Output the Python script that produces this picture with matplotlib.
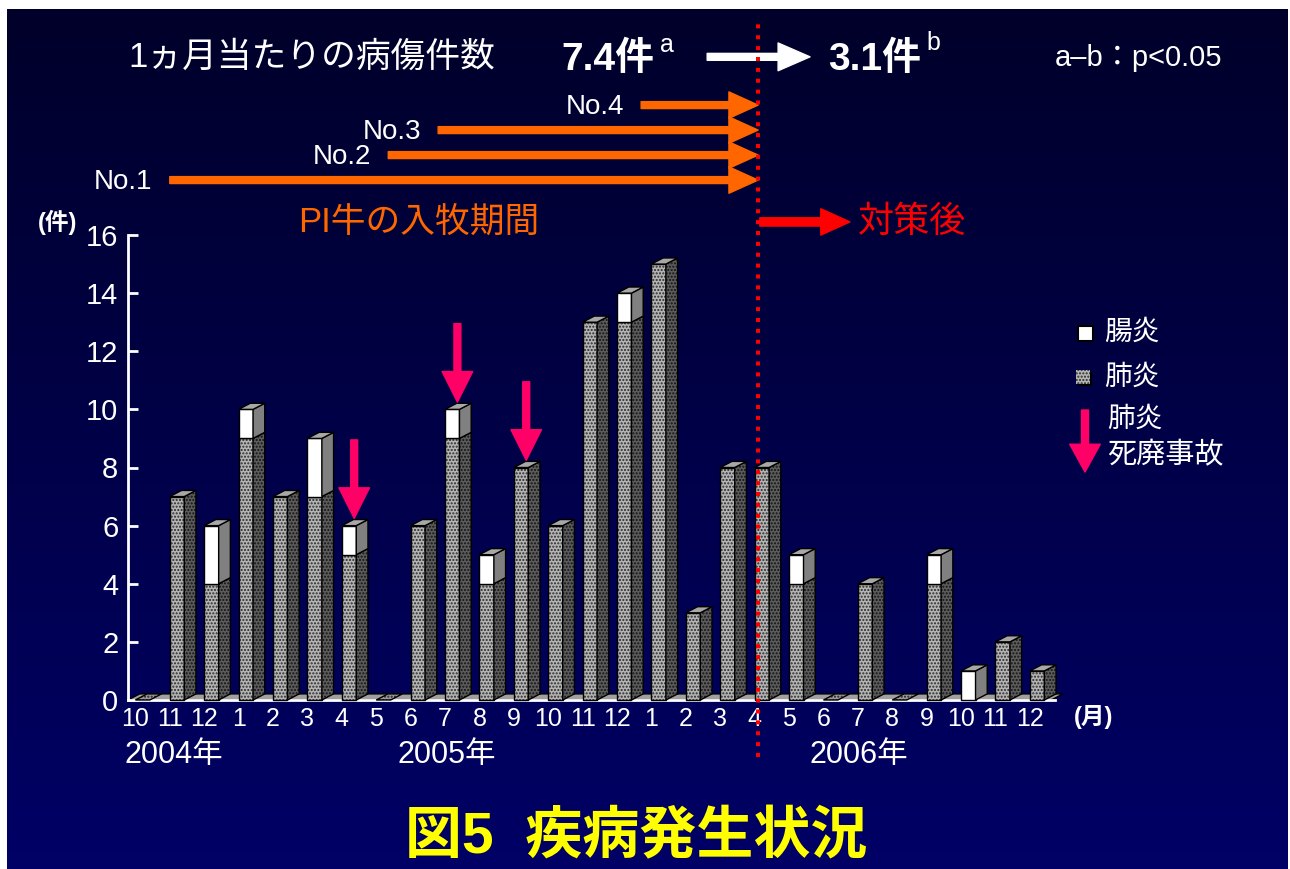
import numpy as np
import matplotlib.pyplot as plt
from matplotlib.colors import LinearSegmentedColormap
from matplotlib.patches import Polygon, Rectangle

plt.rcParams['font.family'] = ['Liberation Sans', 'Noto Sans CJK JP', 'DejaVu Sans']
plt.rcParams['hatch.linewidth'] = 1.0

# Oct 2004 .. Dec 2006
months = ['10', '11', '12'] + [str(m) for m in range(1, 13)] * 2
years = ['2004年', '2005年', '2006年']
pneumonia = [0, 7, 4, 9, 7, 7, 5, 0, 6, 9, 4, 8, 6, 13, 13,
             15, 3, 8, 8, 4, 0, 4, 0, 4, 0, 2, 1]
enteritis = [0, 0, 2, 1, 0, 2, 1, 0, 0, 1, 1, 0, 0, 0, 1,
             0, 0, 0, 0, 1, 0, 0, 0, 1, 1, 0, 0]
death_months = [6, 9, 11]           # 2005-4, 2005-7, 2005-9
pi_labels = ['No.1', 'No.2', 'No.3', 'No.4']
pi_start = [1.0, 7.35, 8.8, 14.7]    # month index each PI calf came in
measures_from = 18.1                 # April 2006
rate_before = '7.4'
rate_after = '3.1'

W_PX, H_PX = 1290, 869
ORANGE = '#ff6600'
PINK = '#ff0066'

fig = plt.figure(figsize=(W_PX / 100, H_PX / 100), dpi=100, facecolor='white')

# navy gradient slide background
bg = fig.add_axes([7 / W_PX, 0, 1281 / W_PX, 860 / H_PX], zorder=0)
navy = LinearSegmentedColormap.from_list('navy', ['#00002a', '#000048', '#000066'])
bg.imshow(np.linspace(0, 1, 256).reshape(-1, 1), aspect='auto', cmap=navy,
          extent=[0, 1, 0, 1], origin='upper')
bg.axis('off')

# main chart, 34.4 px per month, 29.06 px per case
ax = fig.add_axes([128 / W_PX, 169 / H_PX, 927 / W_PX, 465 / H_PX], zorder=2)
ax.patch.set_alpha(0)
ax.set_xlim(-0.215, 26.73)
ax.set_ylim(0, 16)
for s in ['top', 'right']:
    ax.spines[s].set_visible(False)
for s in ['left', 'bottom']:
    ax.spines[s].set_color('white')
    ax.spines[s].set_linewidth(2)
ax.set_yticks(range(0, 17, 2))
ax.tick_params(axis='y', direction='in', length=7, width=2, colors='white',
               labelsize=21, pad=7)
ax.set_xticks(range(len(months)))
ax.set_xticklabels(months)
ax.tick_params(axis='x', length=0, colors='white', labelsize=18, pad=5)

BW, DX, DY = 0.42, 0.34, 0.21


def face(pts, color, hatch=None, hatch_color=None, z=3):
    ax.add_patch(Polygon(pts, closed=True, facecolor=color, edgecolor='none',
                         zorder=z, clip_on=False))
    if hatch:
        ax.add_patch(Polygon(pts, closed=True, fill=False, hatch=hatch,
                             edgecolor=hatch_color, lw=0, zorder=z, clip_on=False))
    ax.add_patch(Polygon(pts, closed=True, fill=False, edgecolor='black',
                         lw=1.0, zorder=z, clip_on=False))


def segment(x, y0, y1, kind, top):
    front = [(x, y0), (x + BW, y0), (x + BW, y1), (x, y1)]
    side = [(x + BW, y0), (x + BW + DX, y0 + DY), (x + BW + DX, y1 + DY), (x + BW, y1)]
    lid = [(x, y1), (x + BW, y1), (x + BW + DX, y1 + DY), (x + DX, y1 + DY)]
    if kind == 'pn':
        face(front, '#b4b4b4', '.....', '#2a2a2a')
        face(side, '#5c5c5c', '.....', '#141414')
    else:
        face(front, 'white')
        face(side, '#808080')
    if top:
        face(lid, '#a8a8a8')


# floor
face([(-0.215, 0), (26.62, 0), (26.62 + DX, DY), (-0.215 + DX, DY)], '#a0a0a0', z=2.5)

for i, (p, e) in enumerate(zip(pneumonia, enteritis)):
    if p + e == 0:
        face([(i, 0), (i + BW, 0), (i + BW + DX, DY), (i + DX, DY)], '#9a9a9a', '.....', '#202020')
        continue
    if p > 0:
        segment(i, 0, p, 'pn', top=(e == 0))
    if e > 0:
        segment(i, p, p + e, 'en', top=True)

# pneumonia deaths
for i in death_months:
    tot = pneumonia[i] + enteritis[i]
    ax.annotate('', xy=(i + 0.36, tot + 0.25), xytext=(i + 0.36, tot + 2.95),
                annotation_clip=False,
                arrowprops=dict(arrowstyle='simple,head_length=2.2,head_width=2.2,tail_width=0.5',
                                mutation_scale=10, color=PINK, shrinkA=0, shrinkB=0))

# PI calf grazing periods
for k, (lab, x0) in enumerate(zip(pi_labels, pi_start)):
    y = 17.89 + k * 0.86
    ax.annotate('', xy=(measures_from, y), xytext=(x0, y), annotation_clip=False,
                arrowprops=dict(arrowstyle='simple,head_length=2.1,head_width=1.9,tail_width=0.5',
                                mutation_scale=10, color=ORANGE, shrinkA=0, shrinkB=0))
    ax.text(x0 - 0.5, y - 0.08, lab, ha='right', va='center', color='white',
            fontsize=20, clip_on=False)

# after measures
ax.annotate('', xy=(measures_from + 2.67, 16.45), xytext=(measures_from + 0.05, 16.45),
            annotation_clip=False,
            arrowprops=dict(arrowstyle='simple,head_length=2.1,head_width=1.9,tail_width=0.6',
                            mutation_scale=10, color='red', shrinkA=0, shrinkB=0))
# monthly rate before -> after
ax.annotate('', xy=(19.61, 22.13), xytext=(16.62, 22.13), annotation_clip=False,
            arrowprops=dict(arrowstyle='simple,head_length=2.3,head_width=2.0,tail_width=0.5',
                            mutation_scale=10, color='white', shrinkA=0, shrinkB=0))

ax.plot([measures_from, measures_from], [-1.96, 23.26], color='red', lw=2.9,
        ls=(0, (1, 1.7)), dash_capstyle='butt', clip_on=False, zorder=6)

# text overlay in pixel units
ov = fig.add_axes([0, 0, 1, 1], zorder=3)
ov.set_xlim(0, W_PX)
ov.set_ylim(H_PX, 0)
ov.axis('off')
ov.patch.set_alpha(0)

ov.text(128, 57, '1ヵ月当たりの病傷件数', color='white', fontsize=25, va='center')
ov.text(561, 60, rate_before + '件', color='white', fontsize=28, fontweight='bold', va='center')
ov.text(660, 45, 'a', color='white', fontsize=18, va='center')
ov.text(828, 60, rate_after + '件', color='white', fontsize=28, fontweight='bold', va='center')
ov.text(926, 43, 'b', color='white', fontsize=18, va='center')
ov.text(1055, 58, 'a–b：p<0.05', color='white', fontsize=21, va='center')

ov.text(298, 222, 'PI牛の入牧期間', color=ORANGE, fontsize=25, va='center')
ov.text(858, 222, '対策後', color='red', fontsize=26, va='center')
ov.text(38, 222, '(件)', color='white', fontsize=17, fontweight='bold', va='center')
ov.text(1074, 717, '(月)', color='white', fontsize=17, fontweight='bold', va='center')

for lab, cx in zip(years, [174, 447, 859]):
    ov.text(cx, 755, lab, color='white', fontsize=22, ha='center', va='center')

# legend
ov.add_patch(Rectangle((1078, 326), 15, 15, facecolor='white', edgecolor='black', lw=1.5))
ov.add_patch(Rectangle((1078, 372), 14, 14, facecolor='#000000', edgecolor='none'))
ov.add_patch(Rectangle((1076, 370), 14, 14, facecolor='#b4b4b4', edgecolor='none'))
ov.add_patch(Rectangle((1076, 370), 14, 14, fill=False, hatch='.....',
                       edgecolor='#2a2a2a', lw=0))
ov.text(1104, 333, '腸炎', color='white', fontsize=20, va='center')
ov.text(1104, 378, '肺炎', color='white', fontsize=20, va='center')
ov.annotate('', xy=(1085, 472), xytext=(1085, 410),
            arrowprops=dict(arrowstyle='simple,head_length=2.0,head_width=2.2,tail_width=0.5',
                            mutation_scale=10, color=PINK, shrinkA=0, shrinkB=0))
ov.text(1107, 420, '肺炎', color='white', fontsize=20, va='center')
ov.text(1107, 455, '死廃事故', color='white', fontsize=21, va='center')

ov.text(636, 838, '図5  疾病発生状況', color='#ffff00', fontsize=41,
        fontweight='bold', ha='center', va='center')

fig.savefig('out.png', dpi=100, facecolor=fig.get_facecolor())
